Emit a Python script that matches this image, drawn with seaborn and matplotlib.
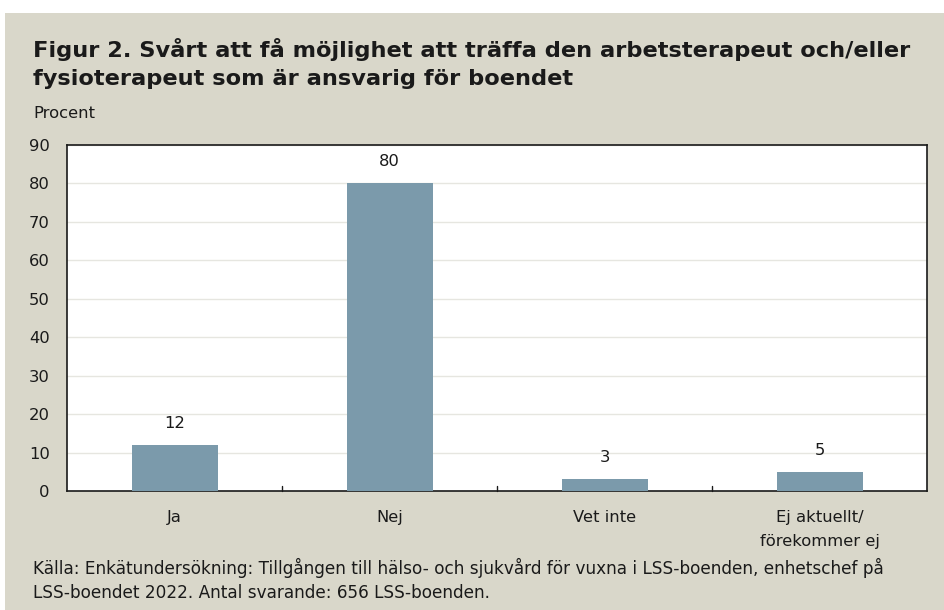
import pandas as pd
import seaborn as sns
import matplotlib.pyplot as plt
from matplotlib.patches import Rectangle

categories = ['Ja', 'Nej', 'Vet inte', 'Ej aktuellt/\nförekommer ej']
values = [12, 80, 3, 5]
yticks = [0, 10, 20, 30, 40, 50, 60, 70, 80, 90]

df = pd.DataFrame({'Svar': categories, 'Procent': values})

sns.set_style('white')
plt.rcParams['font.family'] = ['DejaVu Sans']

bg = '#d9d7ca'
fig = plt.figure(figsize=(9.44, 6.10), dpi=100)
fig.patch.set_facecolor('white')
# beige panel behind everything
fig.patches.append(Rectangle((5 / 944, 0), 1, 1 - 13 / 610, transform=fig.transFigure,
                             facecolor=bg, edgecolor='none', zorder=-10))

ax = fig.add_axes([67 / 944, 1 - 491 / 610, 860 / 944, 346 / 610])
ax.set_facecolor('white')
sns.barplot(data=df, x='Svar', y='Procent', color='#7b9aab', width=0.4,
            saturation=1, linewidth=0, edgecolor='none', ax=ax, zorder=3)

ax.set_ylim(0, 90)
ax.set_xlim(-0.5, 3.5)
ax.set_yticks(yticks)
ax.yaxis.grid(True, color='#e6e6e0', linewidth=1, zorder=0)
ax.set_axisbelow(True)
ax.set_xlabel('')
ax.set_ylabel('')
for s in ax.spines.values():
    s.set_color('#1a1a1a')
    s.set_linewidth(1.2)

# tick marks between categories
ax.set_xticks([0, 1, 2, 3])
ax.set_xticklabels(categories, fontsize=11.8, color='#1a1a1a', linespacing=1.7)
ax.tick_params(axis='x', length=0, pad=14)
ax.tick_params(axis='y', length=0, pad=12.5, labelsize=11.8, labelcolor='#1a1a1a')
for xb in [0.5, 1.5, 2.5]:
    ax.plot([xb, xb], [0, 1.3], color='#1a1a1a', linewidth=1, clip_on=False, zorder=4)

for i, v in enumerate(values):
    ax.text(i, v + 5.6, str(v), ha='center', va='center', fontsize=11.8, color='#1a1a1a')

fig.text(33 / 944, 1 - 63.5 / 610, 'Figur 2. Svårt att få möjlighet att träffa den arbetsterapeut och/eller\n'
         'fysioterapeut som är ansvarig för boendet', ha='left', va='center',
         fontsize=16.2, fontweight='bold', color='#1a1a1a', linespacing=1.47)
fig.text(33 / 944, 1 - 113 / 610, 'Procent', ha='left', va='center', fontsize=11.8, color='#1a1a1a')
fig.text(33 / 944, 1 - 580 / 610,
         'Källa: Enkätundersökning: Tillgången till hälso- och sjukvård för vuxna i LSS-boenden, enhetschef på\n'
         'LSS-boendet 2022. Antal svarande: 656 LSS-boenden.', ha='left', va='center',
         fontsize=12.2, color='#1a1a1a', linespacing=1.45)

fig.savefig('out.png', dpi=100, facecolor=fig.get_facecolor())
